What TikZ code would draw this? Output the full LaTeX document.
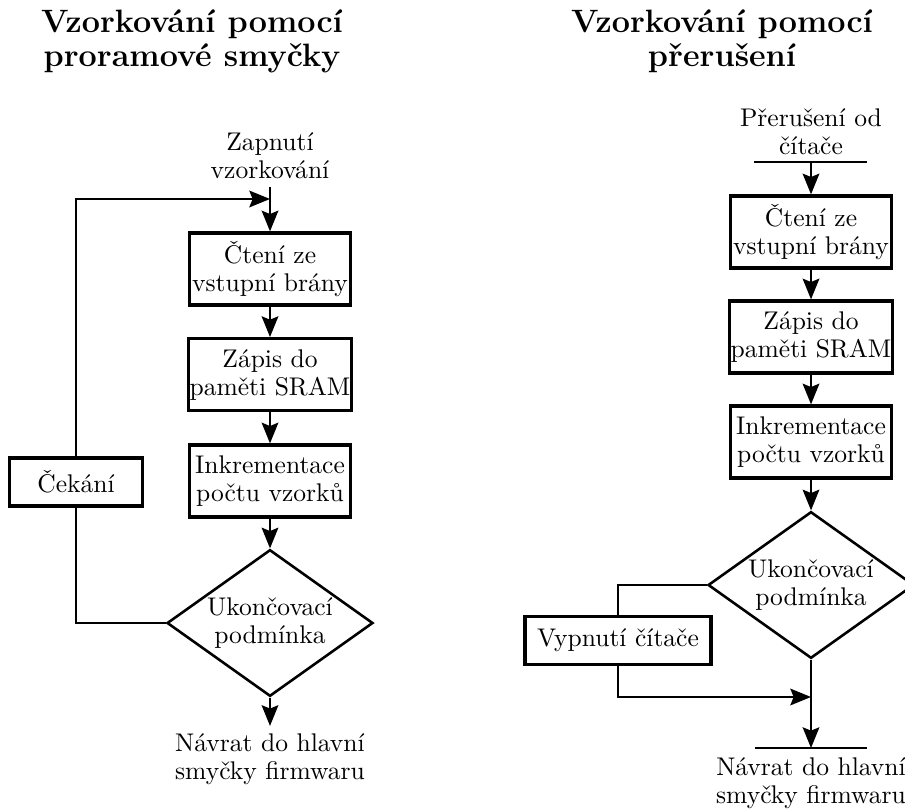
\documentclass[tikz,border=0pt]{standalone}
\usepackage{tikz}
\usetikzlibrary{arrows.meta,shapes.geometric}

\begin{document}
\begin{tikzpicture}[
  every node/.style={font=\fontsize{10.9}{12}\selectfont},
  title/.style={align=center, font=\fontsize{13.8}{14.6}\selectfont\bfseries},
  term/.style={align=center, inner sep=3pt},
  proc/.style={draw, line width=1.4pt, align=center, minimum width=2.42cm,
    minimum height=1.08cm, inner xsep=0.5pt},
  side/.style={draw, line width=1.4pt, align=center, minimum height=0.72cm},
  cond/.style={draw, diamond, line width=1.1pt, align=center, aspect=1.4,
    inner sep=0pt, minimum width=3.09cm, minimum height=2.2cm},
  flow/.style={-{Stealth[length=3.1mm, width=2.5mm, inset=0.5mm]}, line width=0.9pt},
  link/.style={line width=0.9pt}
]
\useasboundingbox (0,0) rectangle (13.575,-12.135);

% Titles.
\node[title] (t1) at (2.88,-0.615) {Vzorkování pomocí\\proramové smyčky};
\node[title] (t2) at (10.83,-0.615) {Vzorkování pomocí\\přerušení};

% Program loop.
\node[term] (start) at (4.05,-2.34) {Zapnutí\\vzorkování};
\coordinate (join) at (4.05,-2.985);
\node[proc] (read1) at (4.05,-4.035) {Čtení ze\\vstupní brány};
\node[proc] (write1) at (4.05,-5.62) {Zápis do\\paměti SRAM};
\node[proc] (inc1) at (4.05,-7.215) {Inkrementace\\počtu vzorků};
\node[cond] (cond1) at (4.05,-9.345) {Ukončovací\\podmínka};
\node[term] (end1) at (4.05,-11.385) {Návrat do hlavní\\smyčky firmwaru};
\node[side, minimum width=2.0cm] (wait) at (1.14,-7.23) {Čekání};

\draw[flow] (start) -- (read1);
\draw[flow] (read1) -- (write1);
\draw[flow] (write1) -- (inc1);
\draw[flow] (inc1) -- (cond1);
\draw[flow] (cond1) -- (end1);
\draw[link] (cond1.west) -| (wait.south);
\draw[flow] (wait.north) |- (join);

% Interrupt routine.
\node[term] (irq) at (12.165,-1.98) {Přerušení od\\čítače};
\coordinate (irqbar) at (12.165,-2.43);
\draw[link] (11.31,-2.43) -- (13.005,-2.43);
\node[proc] (read2) at (12.165,-3.48) {Čtení ze\\vstupní brány};
\node[proc] (write2) at (12.165,-5.055) {Zápis do\\paměti SRAM};
\node[proc] (inc2) at (12.165,-6.63) {Inkrementace\\počtu vzorků};
\node[cond] (cond2) at (12.165,-8.775) {Ukončovací\\podmínka};
\node[side, minimum width=2.79cm] (off) at (9.27,-9.61) {Vypnutí čítače};
\coordinate (merge) at (12.165,-10.455);
\coordinate (endbar) at (12.165,-11.22);
\draw[link] (11.325,-11.22) -- (13.005,-11.22);
\node[term] (end2) at (12.165,-11.75) {Návrat do hlavní\\smyčky firmwaru};

\draw[flow] (irqbar) -- (read2);
\draw[flow] (read2) -- (write2);
\draw[flow] (write2) -- (inc2);
\draw[flow] (inc2) -- (cond2);
\draw[link] (cond2.west) -| (off.north);
\draw[flow] (off.south) |- (merge);
\draw[flow] (cond2.south) -- (endbar);

\end{tikzpicture}
\end{document}
